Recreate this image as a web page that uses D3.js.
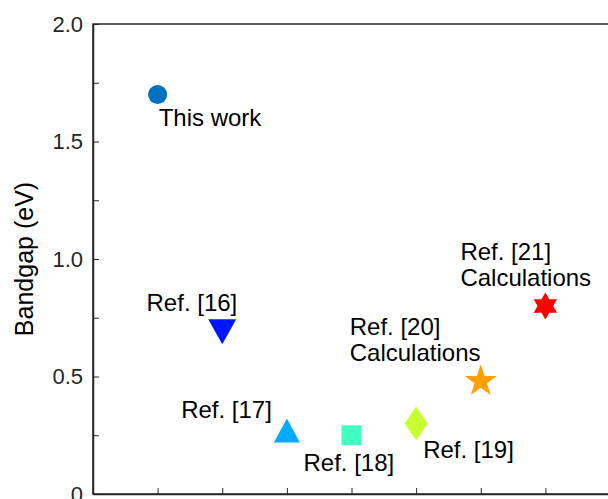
<!DOCTYPE html>
<html>
<head>
<meta charset="utf-8">
<script src="https://cdn.jsdelivr.net/npm/d3@7"></script>
<style>
  html, body { margin: 0; padding: 0; background: #fff; }
  svg { display: block; }
  text { font-family: "Liberation Sans", Arial, Helvetica, sans-serif; }
</style>
</head>
<body>
<div id="chart"></div>
<script>
// data
const xPos = [1, 2, 3, 4, 5, 6, 7];
const bandgap = [1.70, 0.69, 0.27, 0.25, 0.30, 0.48, 0.80];
const labels = [
  ["This work"],
  ["Ref. [16]"],
  ["Ref. [17]"],
  ["Ref. [18]"],
  ["Ref. [19]"],
  ["Ref. [20]", "Calculations"],
  ["Ref. [21]", "Calculations"]
];
const yTicks = [0, 0.25, 0.5, 0.75, 1.0, 1.25, 1.5, 1.75, 2.0];
const yTickLabels = { 0: "0", 0.5: "0.5", 1: "1.0", 1.5: "1.5", 2: "2.0" };
const xTicks = [1, 2, 3, 4, 5, 6, 7];

// look of each point
const markers = ["circle", "tri-down", "tri-up", "square", "diamond", "pentagram", "hexagram"];
const colors = ["#0070c0", "#0015ff", "#00aaff", "#40ffc0", "#c8ff30", "#ffa000", "#ff0000"];
// label placement in px from the marker
const labelLayout = [
  {dx: 1, dy: 31, anchor: "start"},
  {dx: 15, dy: -21, anchor: "end"},
  {dx: -15, dy: -13, anchor: "end"},
  {dx: -48, dy: 36, anchor: "start"},
  {dx: 7, dy: 34, anchor: "start"},
  {dx: -131, dy: -46, anchor: "start"},
  {dx: -85, dy: -46, anchor: "start"}
];

const W = 608, H = 499;
const svg = d3.select("#chart").append("svg")
    .attr("width", W)
    .attr("height", H);

const x = d3.scaleLinear().domain([0, 8]).range([93, 610]);
const y = d3.scaleLinear().domain([0, 2]).range([494, 24]);

const axisColor = "#262626";

function starPath(n, R, r) {
  let pts = [];
  for (let i = 0; i < 2 * n; i++) {
    const a = -Math.PI / 2 + i * Math.PI / n;
    const rad = i % 2 === 0 ? R : r;
    pts.push([rad * Math.cos(a), rad * Math.sin(a)]);
  }
  return "M" + pts.map(p => p.join(",")).join("L") + "Z";
}

function markerPath(type) {
  switch (type) {
    case "circle": return d3.symbol(d3.symbolCircle, Math.PI * 9.5 * 9.5)();
    case "tri-down": return "M-14,-12.5L14,-12.5L0,12.5Z";
    case "tri-up": return "M0,-12L13,12L-13,12Z";
    case "square": return "M-10,-10H10V10H-10Z";
    case "diamond": return "M0,-17L11.5,0L0,17L-11.5,0Z";
    case "pentagram": return starPath(5, 17, 6.5);
    case "hexagram": return starPath(6, 13.5, 7.8);
  }
}

// frame
svg.append("rect")
    .attr("x", x(0))
    .attr("y", y(2))
    .attr("width", x(8) - x(0))
    .attr("height", y(0) - y(2))
    .attr("fill", "none")
    .attr("stroke", axisColor)
    .attr("stroke-width", 1.5);

// y axis
const yAxis = svg.append("g")
    .attr("transform", `translate(${x(0)},0)`)
    .call(d3.axisLeft(y)
        .tickValues(yTicks)
        .tickSizeInner(-6)
        .tickSizeOuter(0)
        .tickPadding(10)
        .tickFormat(d => yTickLabels[d] || ""));
yAxis.select(".domain").attr("stroke", axisColor).attr("stroke-width", 1.5);
yAxis.selectAll(".tick line").attr("stroke", axisColor);
yAxis.selectAll(".tick text")
    .attr("fill", "#262626")
    .style("font-size", "22px")
    .style("font-family", "'Liberation Sans', Arial, sans-serif");

// x axis (labels fall below the visible area)
const xAxis = svg.append("g")
    .attr("transform", `translate(0,${y(0)})`)
    .call(d3.axisBottom(x)
        .tickValues(xTicks)
        .tickSizeInner(-6)
        .tickSizeOuter(0)
        .tickFormat(""));
xAxis.select(".domain").attr("stroke", axisColor).attr("stroke-width", 1.5);
xAxis.selectAll(".tick line").attr("stroke", axisColor);

// y title
svg.append("text")
    .attr("transform", `translate(33,${(y(0) + y(2)) / 2}) rotate(-90)`)
    .attr("text-anchor", "middle")
    .attr("fill", "#000")
    .style("font-size", "25px")
    .text("Bandgap (eV)");

const pts = xPos.map((d, i) => ({x: d, y: bandgap[i], i}));

svg.selectAll(".pt")
    .data(pts)
    .enter()
    .append("path")
    .attr("class", "pt")
    .attr("transform", d => `translate(${x(d.x)},${y(d.y)})`)
    .attr("d", d => markerPath(markers[d.i]))
    .attr("fill", d => colors[d.i]);

const lab = svg.selectAll(".lab")
    .data(pts)
    .enter()
    .append("text")
    .attr("class", "lab")
    .attr("x", d => x(d.x) + labelLayout[d.i].dx)
    .attr("y", d => y(d.y) + labelLayout[d.i].dy)
    .attr("text-anchor", d => labelLayout[d.i].anchor)
    .attr("fill", "#000")
    .style("font-size", "24px");

lab.selectAll("tspan")
    .data(d => labels[d.i].map(t => ({t, d})))
    .enter()
    .append("tspan")
    .attr("x", o => x(o.d.x) + labelLayout[o.d.i].dx)
    .attr("dy", (o, k) => k === 0 ? 0 : 26)
    .text(o => o.t);
</script>
</body>
</html>
